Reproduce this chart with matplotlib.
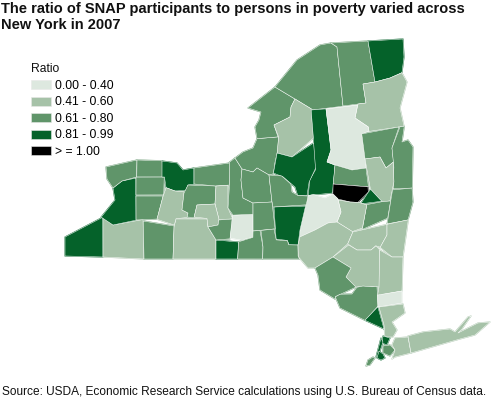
import math
import matplotlib
matplotlib.use("Agg")
import matplotlib.pyplot as plt
from matplotlib.patches import Patch, Polygon

plt.rcParams['font.family'] = ['Liberation Sans', 'DejaVu Sans']

TITLE = "The ratio of SNAP participants to persons in poverty varied across\nNew York in 2007"
SOURCE = "Source: USDA, Economic Research Service calculations using U.S. Bureau of Census data."
LEGEND_TITLE = "Ratio"
class_labels = ["0.00 - 0.40", "0.41 - 0.60", "0.61 - 0.80", "0.81 - 0.99", "> = 1.00"]
class_colors = ["#dde8df", "#a6c2a8", "#60956a", "#05622a", "#000000"]

# County outlines (image pixel coordinates), with ratio class index
counties = [
 ("Chautauqua", 3, [(65,237),(103,217),(103,257),(65,256)]),
 ("Cattaraugus", 1, [(103,217),(113,225),(143,219),(144,259),(103,257)]),
 ("Allegany", 2, [(144,221),(174,227),(173,259),(144,259)]),
 ("Steuben", 1, [(176,219),(207,219),(208,227),(216,240),(216,259),(173,259),(174,227)]),
 ("Chemung", 3, [(216,240),(238,242),(237,259),(216,259)]),
 ("Erie", 3, [(113,188),(122,181),(136,179),(136,220),(113,225),(100,215),(115,200)]),
 ("Niagara", 2, [(106,167),(137,160),(136,177),(122,181),(113,188),(107,179)]),
 ("Orleans", 2, [(137,160),(162,160),(162,177),(137,177)]),
 ("Genesee", 2, [(136,177),(165,177),(164,195),(136,195)]),
 ("Wyoming", 2, [(136,196),(163,197),(157,219),(136,220)]),
 ("Monroe", 3, [(162,161),(177,163),(183,170),(194,168),(194,184),(188,185),(187,191),(175,191),(166,187),(165,177),(162,177)]),
 ("Livingston", 1, [(166,188),(175,191),(184,193),(182,210),(188,213),(187,217),(176,218),(174,225),(157,220),(163,197)]),
 ("Ontario", 2, [(188,185),(216,186),(215,204),(197,205),(194,217),(187,217),(188,213),(182,210),(184,193)]),
 ("Wayne", 2, [(194,168),(230,163),(229,185),(216,186),(194,184)]),
 ("Seneca", 1, [(216,186),(228,186),(228,208),(233,219),(219,219),(215,204)]),
 ("Yates", 1, [(197,205),(215,204),(219,219),(218,225),(208,227),(207,217),(194,217)]),
 ("Schuyler", 2, [(208,227),(218,225),(219,220),(233,219),(230,238),(216,240)]),
 ("Tompkins", 0, [(233,215),(253,215),(253,230),(255,237),(245,237),(243,241),(230,238)]),
 ("Cayuga", 2, [(229,160),(235,158),(242,169),(241,180),(243,198),(253,203),(253,214),(233,215),(228,208),(230,183)]),
 ("Oswego", 2, [(235,158),(243,152),(253,148),(257,140),(278,137),(279,150),(274,163),(273,175),(269,175),(257,168),(253,172),(242,169)]),
 ("Jefferson", 2, [(275,87),(248,108),(261,112),(259,120),(255,127),(257,138),(278,137),(274,125),(290,117),(291,107),(295,99)]),
 ("St Lawrence", 2, [(275,87),(297,60),(320,45),(331,43),(337,47),(343,106),(313,110),(295,99)]),
 ("Franklin", 2, [(331,43),(368,41),(375,82),(363,84),(366,103),(343,106),(337,47)]),
 ("Clinton", 3, [(368,41),(403,39),(404,57),(402,72),(390,78),(375,82)]),
 ("Essex", 1, [(363,84),(375,82),(390,78),(402,73),(407,82),(400,108),(404,125),(369,131),(368,127),(355,118),(358,104),(366,103)]),
 ("Lewis", 1, [(295,99),(311,109),(313,138),(292,157),(277,153),(279,137),(274,125),(290,117),(291,107)]),
 ("Herkimer", 3, [(311,110),(326,109),(331,150),(327,162),(335,165),(332,193),(308,195),(310,180),(317,170),(312,165),(315,143)]),
 ("Oneida", 3, [(277,153),(292,157),(313,143),(316,168),(308,182),(307,195),(298,195),(295,187),(283,177),(273,173)]),
 ("Hamilton", 0, [(326,109),(357,105),(355,118),(369,127),(369,131),(362,134),(366,168),(352,170),(335,165),(327,162),(331,150)]),
 ("Warren", 2, [(361,134),(399,127),(392,148),(393,162),(386,168),(380,157),(365,159)]),
 ("Washington", 2, [(400,127),(405,127),(402,142),(408,140),(413,147),(413,188),(394,189),(395,167),(392,148)]),
 ("Saratoga", 1, [(365,159),(380,157),(386,168),(393,162),(395,182),(390,201),(382,202),(370,189)]),
 ("Montgomery", 2, [(335,165),(352,170),(366,168),(368,187),(333,184)]),
 ("Schenectady", 4, [(333,184),(368,187),(368,192),(358,202),(350,202),(338,198),(333,195)]),
 ("Albany", 3, [(371,189),(382,201),(360,206),(368,193)]),
 ("Rensselaer", 2, [(367,205),(382,202),(391,201),(387,218),(362,228),(365,213)]),
 ("Bennington", 2, [(393,190),(412,188),(413,202),(408,220),(387,223),(391,201)]),
 ("Schoharie", 1, [(338,200),(350,202),(358,202),(367,205),(362,228),(352,232),(337,222),(341,212)]),
 ("Otsego", 0, [(308,196),(313,193),(325,198),(334,194),(338,198),(341,212),(337,222),(328,223),(315,230),(300,237),(300,230),(305,213)]),
 ("Chenango", 3, [(274,207),(305,206),(300,230),(298,245),(290,245),(288,239),(277,239)]),
 ("Onondaga", 2, [(242,169),(253,172),(257,168),(269,175),(272,202),(253,203),(243,198),(241,180)]),
 ("Madison", 2, [(269,175),(282,175),(290,185),(292,192),(298,196),(308,196),(307,205),(273,207),(272,202)]),
 ("Cortland", 2, [(253,203),(272,202),(274,229),(253,231)]),
 ("Tioga", 2, [(253,231),(260,231),(263,247),(262,259),(238,259),(239,241),(253,238)]),
 ("Broome", 2, [(261,231),(274,229),(276,242),(287,241),(288,245),(298,245),(298,255),(300,259),(263,259),(263,247)]),
 ("Delaware", 1, [(300,237),(315,230),(328,223),(337,222),(353,232),(347,244),(333,257),(315,268),(308,268),(298,257),(298,245)]),
 ("Greene", 1, [(353,232),(387,225),(387,235),(380,247),(375,245),(371,250),(357,250),(348,244)]),
 ("Columbia", 1, [(387,224),(409,220),(403,257),(392,257),(380,248),(387,235)]),
 ("Ulster", 1, [(333,257),(348,246),(357,250),(371,250),(376,246),(379,249),(380,287),(373,287),(362,287),(355,287),(346,277),(351,268)]),
 ("Dutchess", 1, [(380,250),(392,257),(403,257),(402,291),(385,295),(377,296),(379,287)]),
 ("Sullivan", 2, [(315,268),(333,257),(351,268),(346,277),(356,287),(335,296),(335,300),(320,290),(318,275)]),
 ("Orange", 2, [(335,297),(340,294),(352,294),(357,288),(363,285),(372,287),(377,285),(378,305),(365,321),(340,308)]),
 ("Rockland", 3, [(378,307),(384,329),(365,320)]),
 ("Putnam", 0, [(378,295),(402,291),(402,303),(378,307)]),
 ("Westchester", 1, [(379,307),(403,304),(405,313),(392,322),(397,330),(393,337),(385,337),(384,325)]),
 ("Bronx", 3, [(383,336),(390,338),(387,345),(382,343)]),
 ("Queens", 2, [(383,346),(390,345),(395,350),(390,356),(383,353)]),
 ("Manhattan", 3, [(381,338),(383,342),(378,357),(376,357)]),
 ("Brooklyn", 3, [(379,351),(383,354),(385,358),(381,360),(377,358)]),
 ("Richmond", 2, [(373,357),(375,358),(370,365),(366,366),(368,360)]),
 ("Nassau", 1, [(395,338),(408,337),(411,353),(395,357),(392,359),(395,350),(392,345)]),
 ("Suffolk", 1, [(408,336),(423,332),(450,329),(455,332),(468,317),(471,316),(462,329),(458,333),(478,323),(490,322),(475,335),(460,339),(411,353)]),
]

# The outlines were read one by one, so neighbours miss each other by a pixel or two.
# Move each vertex towards the nearest edge of any neighbouring county it nearly touches.
SNAP_DIST = 3.5
NO_SNAP = {"Bronx", "Queens", "Manhattan", "Brooklyn", "Richmond", "Nassau", "Suffolk", "Westchester"}

def nearest_on_segment(p, a, b):
    dx, dy = b[0] - a[0], b[1] - a[1]
    t = ((p[0] - a[0]) * dx + (p[1] - a[1]) * dy) / max(dx * dx + dy * dy, 1e-9)
    t = min(1.0, max(0.0, t))
    return (a[0] + t * dx, a[1] + t * dy)

shapes = [list(c[2]) for c in counties]
names = [c[0] for c in counties]
for _ in range(2):
    for i, poly in enumerate(shapes):
        if names[i] in NO_SNAP:
            continue
        for k, p in enumerate(poly):
            best, best_d = None, SNAP_DIST
            for j, other in enumerate(shapes):
                if j == i or names[j] in NO_SNAP:
                    continue
                for m in range(len(other)):
                    q = nearest_on_segment(p, other[m], other[(m + 1) % len(other)])
                    d = math.dist(p, q)
                    if 1e-6 < d < best_d:
                        best, best_d = q, d
            if best is not None:
                poly[k] = ((p[0] + best[0]) / 2, (p[1] + best[1]) / 2)

fig = plt.figure(figsize=(4.95, 4.0), dpi=100)
ax = fig.add_axes([0, 0, 1, 1])
ax.set_xlim(0, 495)
ax.set_ylim(400, 0)
ax.axis("off")

for (name, cls, _o), outline in zip(counties, shapes):
    ax.add_patch(Polygon(outline, closed=True, facecolor=class_colors[cls],
                         edgecolor=class_colors[cls], linewidth=0.8, joinstyle="round", zorder=1))
for (name, cls, _o), outline in zip(counties, shapes):
    ax.add_patch(Polygon(outline, closed=True, facecolor=class_colors[cls],
                         edgecolor="white", linewidth=0.35, joinstyle="round", zorder=2))

handles = [Patch(facecolor=c, edgecolor="#e8e8e8", linewidth=0.4) for c in class_colors]
leg = ax.legend(handles, class_labels, title=LEGEND_TITLE, frameon=False,
                loc="upper left", bbox_to_anchor=(31 / 495, 1 - 63.5 / 400), borderaxespad=0,
                borderpad=0, fontsize=8.7, title_fontsize=8.7, alignment="left",
                handlelength=1.67, handleheight=0.75, handletextpad=0.33, labelspacing=0.37)
leg.get_title().set_color("#111111")

ax.text(1, 2, TITLE, fontsize=10.5, fontweight="bold", va="top", ha="left",
        linespacing=1.2, color="#111111")
ax.text(2, 392.5, SOURCE, fontsize=8.58, va="center", ha="left", color="#111111")

fig.savefig("out.png", dpi=100)
